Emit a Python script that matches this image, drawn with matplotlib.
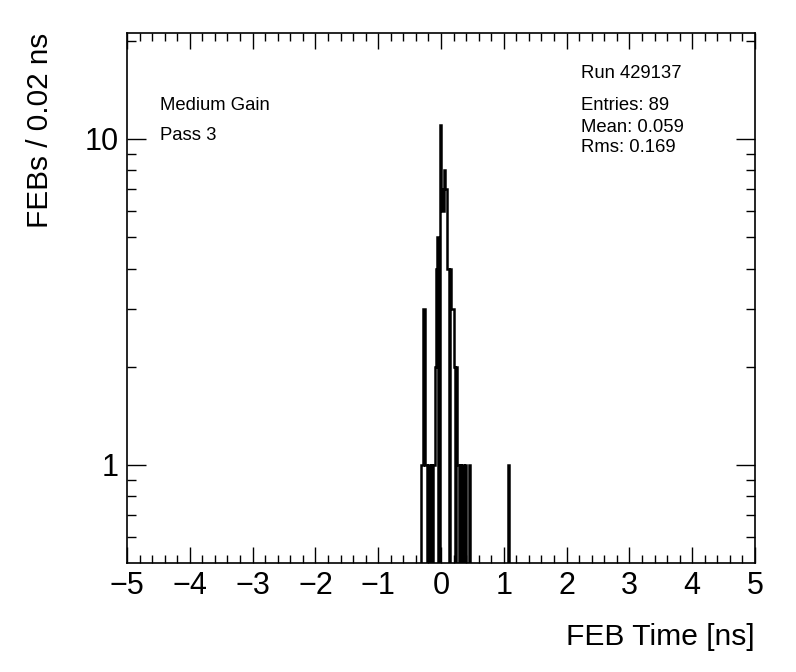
import numpy as np
import matplotlib.pyplot as plt
from matplotlib.ticker import MultipleLocator, FixedLocator, NullFormatter

plt.rcParams['font.family'] = ['Liberation Sans', 'DejaVu Sans']

# histogram contents (bin centres in ns, 0.02 ns bins)
bin_centers = [-0.31, -0.29, -0.27, -0.25, -0.23, -0.19, -0.15, -0.11,
               -0.09, -0.07, -0.05, -0.01, 0.01, 0.03, 0.05, 0.07, 0.09,
               0.11, 0.15, 0.17, 0.19, 0.21, 0.25, 0.27, 0.31, 0.35, 0.39,
               0.45, 1.07]
bin_counts = [1, 1, 3, 1, 1, 1, 1, 1,
              2, 4, 5, 11, 7, 6, 8, 7, 7,
              4, 4, 3, 3, 2, 2, 1, 1, 1, 1,
              1, 1]

run_text = "Run 429137"
stats_lines = ["Entries: 89", "Mean: 0.059", "Rms: 0.169"]
gain_text = "Medium Gain"
pass_text = "Pass 3"

edges = np.linspace(-5, 5, 501)
counts = np.zeros(500)
idx = np.round((np.array(bin_centers) + 5 - 0.01) / 0.02).astype(int)
counts[idx] = bin_counts

W, H = 796, 672
fig = plt.figure(figsize=(W / 100, H / 100), dpi=100)
ax = fig.add_axes([127 / W, 1 - 563 / H, 628 / W, 530 / H])

ax.stairs(np.where(counts > 0, counts, 1e-3), edges, baseline=1e-3,
          color='black', linewidth=1.8)

ax.set_yscale('log')
ax.set_xlim(-5, 5)
ax.set_ylim(0.5, 21.1)

ax.xaxis.set_major_locator(MultipleLocator(1))
ax.xaxis.set_minor_locator(MultipleLocator(0.2))
ax.yaxis.set_major_locator(FixedLocator([1, 10]))
ax.yaxis.set_minor_locator(FixedLocator([0.6, 0.7, 0.8, 0.9, 2, 3, 4, 5, 6, 7, 8, 9, 20]))
ax.yaxis.set_major_formatter(plt.FuncFormatter(lambda v, p: "%d" % v))
ax.yaxis.set_minor_formatter(NullFormatter())

ax.tick_params(axis='x', which='major', direction='in', length=11.5, width=1,
               top=True, labelsize=22, pad=6)
ax.tick_params(axis='x', which='minor', direction='in', length=5.8, width=1, top=True)
ax.tick_params(axis='y', which='major', direction='in', length=13.7, width=1,
               right=True, labelsize=22, pad=6)
ax.tick_params(axis='y', which='minor', direction='in', length=6.8, width=1, right=True)
for s in ax.spines.values():
    s.set_linewidth(1.2)

fig.text(40 / W, 1 - 33 / H, "FEBs / 0.02 ns", rotation=90, ha='center', va='top', fontsize=21.4)
fig.text(755 / W, 1 - 637 / H, "FEB Time [ns]", ha='right', va='center', fontsize=21.6)

fig.text(160 / W, 1 - 106 / H, gain_text, ha='left', va='center', fontsize=13.3)
fig.text(160 / W, 1 - 136 / H, pass_text, ha='left', va='center', fontsize=13.3)
fig.text(581 / W, 1 - 74 / H, run_text, ha='left', va='center', fontsize=13.3)
for i, line in enumerate(stats_lines):
    fig.text(581 / W, 1 - (106 + 21 * i) / H, line, ha='left', va='center', fontsize=13.3)

fig.savefig('out.png', dpi=100)
